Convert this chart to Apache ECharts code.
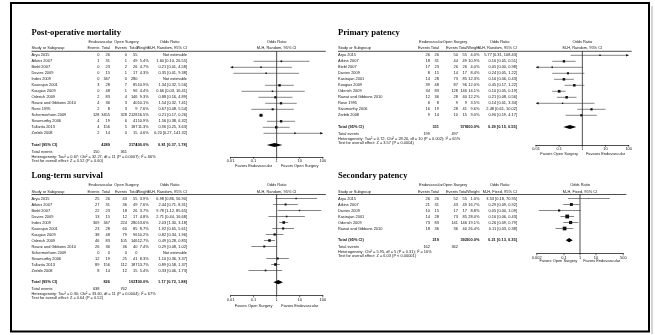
<!DOCTYPE html>
<html>
<head>
<meta charset="utf-8">
<script src="https://cdn.jsdelivr.net/npm/echarts@6/dist/echarts.min.js"></script>
<style>
  html, body { margin: 0; padding: 0; background: #fff; }
  #chart { width: 655px; height: 335px; }
</style>
</head>
<body>
<div id="chart"></div>
<script>
// ---------- Post-operative mortality ----------
const mortStudies = ['Arya 2015', 'Atkins 2007', 'Biebl 2007', 'Davies 2009', 'Indes 2009', 'Kasirajan 2001', 'Kougias 2009', 'Oderich 2009', 'Rawat and Gibbons 2010', 'Rose 1995', 'Schermerhorn 2009', 'Sivamurthy 2006', 'Tallarita 2013', 'Zerbib 2008'];
const mortEndoEvents = [0, 1, 0, 0, 0, 3, 0, 2, 4, 2, 128, 4, 4, 2];
const mortEndoTotal  = [26, 31, 23, 15, 347, 28, 48, 83, 36, 8, 3455, 19, 156, 14];
const mortOpenEvents = [0, 1, 2, 1, 0, 7, 1, 4, 3, 3, 328, 6, 5, 0];
const mortOpenTotal  = [55, 49, 26, 17, 280, 85, 96, 146, 40, 9, 2128, 41, 187, 15];
const mortWeight = [null, 5.4, 4.7, 4.3, null, 10.9, 4.4, 9.3, 10.1, 7.6, 16.5, 10.9, 11.3, 4.6];
const mortOR   = [null, 1.60, 0.21, 0.35, null, 1.34, 0.66, 0.88, 1.54, 0.67, 0.21, 1.56, 0.96, 6.20];
const mortLow  = [null, 0.10, 0.0095, 0.0134, null, 0.32, 0.03, 0.16, 0.32, 0.08, 0.17, 0.38, 0.25, 0.27];
const mortHigh = [null, 26.55, 4.58, 9.38, null, 5.56, 16.41, 4.89, 7.41, 5.54, 0.26, 6.32, 3.63, 141.32];
const mortPooled = [0.81, 0.37, 1.78];
const mortHet  = 'Heterogeneity: Tau² = 0.67; Chi² = 32.27, df = 11 (P = 0.0007); I² = 66%';
const mortTest = 'Test for overall effect: Z = 0.52 (P = 0.60)';
const mortFavors = ['Favors Endovascular', 'Favors Open Surgery'];

// ---------- Primary patency ----------
const primStudies = ['Arya 2015', 'Atkins 2007', 'Biebl 2007', 'Davies 2009', 'Kasirajan 2001', 'Kougias 2009', 'Oderich 2009', 'Rawat and Gibbons 2010', 'Rose 1995', 'Sivamurthy 2006', 'Zerbib 2008'];
const primEndoEvents = [26, 18, 17, 8, 14, 39, 34, 12, 6, 16, 9];
const primEndoTotal  = [26, 31, 23, 15, 28, 48, 83, 36, 8, 19, 14];
const primOpenEvents = [50, 44, 26, 14, 73, 87, 128, 28, 9, 28, 10];
const primOpenTotal  = [55, 49, 26, 17, 85, 96, 146, 40, 9, 41, 15];
const primWeight = [4.0, 10.9, 4.0, 8.4, 12.3, 12.0, 14.1, 12.2, 3.5, 9.6, 9.0];
const primOR   = [5.77, 0.16, 0.05, 0.24, 0.16, 0.45, 0.10, 0.21, 0.14, 2.48, 0.90];
const primLow  = [0.31, 0.05, 0.0027, 0.05, 0.06, 0.17, 0.05, 0.08, 0.0056, 0.61, 0.19];
const primHigh = [108.43, 0.51, 0.98, 1.22, 0.43, 1.22, 0.19, 0.56, 3.34, 10.02, 4.17];
const primPooled = [0.29, 0.15, 0.55];
const primHet  = 'Heterogeneity: Tau² = 0.72; Chi² = 28.20, df = 10 (P = 0.002); I² = 65%';
const primTest = 'Test for overall effect: Z = 3.57 (P = 0.0004)';
const primFavors = ['Favors Open Surgery', 'Favours Endovascular'];

// ---------- Long-term survival ----------
const survStudies = ['Arya 2015', 'Atkins 2007', 'Biebl 2007', 'Davies 2009', 'Indes 2009', 'Kasirajan 2001', 'Kougias 2009', 'Oderich 2009', 'Rawat and Gibbons 2010', 'Schermerhorn 2009', 'Sivamurthy 2006', 'Tallarita 2013', 'Zerbib 2008'];
const survEndoEvents = [25, 27, 22, 13, 309, 23, 38, 46, 26, 0, 12, 89, 8];
const survEndoTotal  = [26, 31, 23, 15, 347, 28, 48, 83, 36, 0, 19, 156, 14];
const survOpenEvents = [43, 36, 18, 12, 224, 60, 79, 105, 36, 0, 25, 112, 12];
const survOpenTotal  = [55, 49, 26, 17, 280, 85, 96, 146, 40, 0, 41, 187, 15];
const survWeight = [3.9, 7.6, 3.7, 4.8, 13.6, 8.7, 10.2, 12.7, 7.4, null, 8.3, 13.7, 5.4];
const survOR   = [6.98, 2.44, 9.78, 2.71, 2.03, 1.92, 0.82, 0.49, 0.29, null, 1.10, 0.89, 0.33];
const survLow  = [0.86, 0.71, 1.12, 0.44, 1.30, 0.65, 0.34, 0.28, 0.08, null, 0.36, 0.58, 0.06];
const survHigh = [56.90, 8.31, 85.65, 16.68, 3.18, 5.61, 1.96, 0.85, 1.02, null, 3.37, 1.37, 1.73];
const survPooled = [1.17, 0.72, 1.88];
const survHet  = 'Heterogeneity: Tau² = 0.30; Chi² = 33.60, df = 11 (P = 0.0004); I² = 67%';
const survTest = 'Test for overall effect: Z = 0.64 (P = 0.52)';
const survFavors = ['Favors Open Surgery', 'Favors Endovascular'];

// ---------- Secondary patency ----------
const secStudies = ['Arya 2015', 'Atkins 2007', 'Davies 2009', 'Kasirajan 2001', 'Oderich 2009', 'Rawat and Gibbons 2010'];
const secEndoEvents = [26, 21, 10, 14, 73, 18];
const secEndoTotal  = [26, 31, 15, 28, 83, 36];
const secOpenEvents = [52, 43, 17, 73, 141, 36];
const secOpenTotal  = [55, 49, 17, 85, 146, 40];
const secWeight = [1.0, 16.7, 8.8, 28.0, 19.1, 26.4];
const secOR   = [3.53, 0.29, 0.05, 0.16, 0.26, 0.11];
const secLow  = [0.18, 0.09, 0.0027, 0.06, 0.09, 0.03];
const secHigh = [70.95, 0.92, 1.09, 0.43, 0.79, 0.38];
const secPooled = [0.21, 0.13, 0.35];
const secHet  = 'Heterogeneity: Chi² = 5.95, df = 5 (P = 0.31); I² = 16%';
const secTest = 'Test for overall effect: Z = 6.03 (P < 0.00001)';
const secFavors = ['Favors Open Surgery', 'Favors Endovascular'];

// axis tick values
const ticksDecade = [0.01, 0.1, 1, 10, 100];
const ticksWide   = [0.002, 0.1, 1, 10, 500];

const panels = [
  { title: 'Post-operative mortality', method: 'M-H, Random, 95% CI', studies: mortStudies, e1: mortEndoEvents, n1: mortEndoTotal, e2: mortOpenEvents, n2: mortOpenTotal, w: mortWeight, or: mortOR, lo: mortLow, hi: mortHigh, pooled: mortPooled, het: mortHet, test: mortTest, favors: mortFavors, ticks: ticksDecade },
  { title: 'Primary patency', method: 'M-H, Random, 95% CI', studies: primStudies, e1: primEndoEvents, n1: primEndoTotal, e2: primOpenEvents, n2: primOpenTotal, w: primWeight, or: primOR, lo: primLow, hi: primHigh, pooled: primPooled, het: primHet, test: primTest, favors: primFavors, ticks: ticksDecade },
  { title: 'Long-term survival', method: 'M-H, Random, 95% CI', studies: survStudies, e1: survEndoEvents, n1: survEndoTotal, e2: survOpenEvents, n2: survOpenTotal, w: survWeight, or: survOR, lo: survLow, hi: survHigh, pooled: survPooled, het: survHet, test: survTest, favors: survFavors, ticks: ticksDecade },
  { title: 'Secondary patency', method: 'M-H, Fixed, 95% CI', studies: secStudies, e1: secEndoEvents, n1: secEndoTotal, e2: secOpenEvents, n2: secOpenTotal, w: secWeight, or: secOR, lo: secLow, hi: secHigh, pooled: secPooled, het: secHet, test: secTest, favors: secFavors, ticks: ticksWide }
];

// ---------- layout ----------
const SANS = '"Liberation Sans", Arial, Helvetica, sans-serif';
const SERIF = '"Liberation Serif", "Times New Roman", serif';
const FS = 3.95;
const INK = '#161616';

const LEFT_COLS  = { study: 31.5, ev1: 99.5, tot1: 110, ev2: 127, tot2: 137.5, wt: 148.8, ci: 187, hdr1: 100.5, hdr2: 126.5, hdrOR: 169.5 };
const RIGHT_COLS = { study: 338, ev1: 430, tot1: 439, ev2: 458, tot2: 467, wt: 479.5, ci: 517, hdr1: 431, hdr2: 455, hdrOR: 499.5 };
const TOP_ROWS = { title: 32.5, h1: 42, h2: 48.3, line: 51.3, row0: 55.3, step: 6.0 };
const BOTTOM_ROWS = { title: 175.7, h1: 185.2, h2: 191.5, line: 194.5, row0: 198.5, step: 6.0 };

const layouts = [
  { cols: LEFT_COLS,  rows: TOP_ROWS,    range: [0.01, 100],  plotX: [230.5, 322.8], axisY: 157,   favY: 166 },
  { cols: RIGHT_COLS, rows: TOP_ROWS,    range: [0.01, 100],  plotX: [536, 628.7],   axisY: 145,   favY: 154 },
  { cols: LEFT_COLS,  rows: BOTTOM_ROWS, range: [0.01, 100],  plotX: [230.5, 322.8], axisY: 295.5, favY: 305.5 },
  { cols: RIGHT_COLS, rows: BOTTOM_ROWS, range: [0.002, 500], plotX: [536.7, 623.3], axisY: 253.5, favY: 261 }
];

const sum = a => a.reduce((s, v) => s + v, 0);
const f2 = v => v.toFixed(2);
const ciText = (or, lo, hi) => (or == null ? 'Not estimable' : `${f2(or)} [${f2(lo)}, ${f2(hi)}]`);

const grids = [], xAxes = [], yAxes = [], series = [];

panels.forEach((p, pi) => {
  const L = layouts[pi], C = L.cols, R = L.rows;
  const rowOf = y => (y - R.row0) / R.step;
  const yMin = rowOf(R.line), yMax = rowOf(L.axisY);
  const n = p.studies.length;

  grids.push({ left: L.plotX[0], width: L.plotX[1] - L.plotX[0], top: R.line, height: L.axisY - R.line, outerBoundsMode: 'none', containLabel: false });
  xAxes.push({
    type: 'log', logBase: 10, gridIndex: pi, min: L.range[0], max: L.range[1],
    axisLine: { show: true, onZero: false, lineStyle: { color: '#000', width: 0.7 } },
    axisTick: { show: false }, axisLabel: { show: false }, splitLine: { show: false }
  });
  yAxes.push({ type: 'value', gridIndex: pi, min: yMin, max: yMax, inverse: true, show: false });

  // text lines of the table
  const totalRow = (n - 1) + 1.95;
  const eventsRow = totalRow + 7 / R.step;
  const hetRow = eventsRow + 4.6 / R.step;
  const testRow = hetRow + 4.6 / R.step;
  const lines = [];
  lines.push({ row: rowOf(R.title), items: [{ t: p.title, x: C.study, a: 'left', ff: SERIF, fs: 8.6, b: true, fill: '#000' }] });
  lines.push({ row: rowOf(R.h1), items: [
    { t: 'Endovascular', x: C.hdr1, a: 'center' },
    { t: 'Open Surgery', x: C.hdr2, a: 'center' },
    { t: 'Odds Ratio', x: C.hdrOR, a: 'center' },
    { t: 'Odds Ratio', x: 'c', a: 'center' }
  ] });
  lines.push({ row: rowOf(R.h2), items: [
    { t: 'Study or Subgroup', x: C.study, a: 'left' },
    { t: 'Events', x: C.ev1, a: 'right' },
    { t: 'Total', x: C.tot1, a: 'right' },
    { t: 'Events', x: C.ev2, a: 'right' },
    { t: 'Total', x: C.tot2, a: 'right' },
    { t: 'Weight', x: C.wt, a: 'right' },
    { t: p.method, x: C.ci, a: 'right' },
    { t: p.method, x: 'c', a: 'center' }
  ] });
  p.studies.forEach((s, i) => {
    const items = [
      { t: s, x: C.study, a: 'left' },
      { t: String(p.e1[i]), x: C.ev1, a: 'right' },
      { t: String(p.n1[i]), x: C.tot1, a: 'right' },
      { t: String(p.e2[i]), x: C.ev2, a: 'right' },
      { t: String(p.n2[i]), x: C.tot2, a: 'right' },
      { t: ciText(p.or[i], p.lo[i], p.hi[i]), x: C.ci, a: 'right' }
    ];
    if (p.w[i] != null) items.push({ t: p.w[i].toFixed(1) + '%', x: C.wt, a: 'right' });
    lines.push({ row: i, items });
  });
  lines.push({ row: totalRow, items: [
    { t: 'Total (95% CI)', x: C.study, a: 'left', b: true },
    { t: String(sum(p.n1)), x: C.tot1, a: 'right', b: true },
    { t: String(sum(p.n2)), x: C.tot2, a: 'right', b: true },
    { t: '100.0%', x: C.wt, a: 'right', b: true },
    { t: ciText(p.pooled[0], p.pooled[1], p.pooled[2]), x: C.ci, a: 'right', b: true }
  ] });
  lines.push({ row: eventsRow, items: [
    { t: 'Total events', x: C.study, a: 'left' },
    { t: String(sum(p.e1)), x: C.ev1, a: 'right' },
    { t: String(sum(p.e2)), x: C.ev2, a: 'right' }
  ] });
  lines.push({ row: hetRow, items: [{ t: p.het, x: C.study, a: 'left' }] });
  lines.push({ row: testRow, items: [{ t: p.test, x: C.study, a: 'left' }] });
  lines.push({ row: rowOf(L.favY), items: [
    { t: p.favors[0], x: 'l', a: 'center' },
    { t: p.favors[1], x: 'r', a: 'center' }
  ] });

  series.push({
    type: 'custom', name: p.title + ' table', xAxisIndex: pi, yAxisIndex: pi, clip: false, silent: true, z: 5,
    data: lines.map(l => [1, l.row]),
    renderItem: (params, api) => {
      const line = lines[params.dataIndex];
      const c = api.coord([1, api.value(1)]);
      const left = api.coord([L.range[0], api.value(1)])[0];
      const right = api.coord([L.range[1], api.value(1)])[0];
      return {
        type: 'group',
        children: line.items.map(it => ({
          type: 'text',
          x: it.x === 'c' ? c[0] : it.x === 'l' ? (left + c[0]) / 2 : it.x === 'r' ? (right + c[0]) / 2 : it.x,
          y: c[1],
          style: {
            text: it.t, align: it.a, verticalAlign: 'middle',
            fontSize: it.fs || FS, fontFamily: it.ff || SANS, fontWeight: it.b ? 'bold' : 'normal',
            fill: it.fill || INK
          }
        }))
      };
    }
  });

  // header rule
  series.push({
    type: 'custom', name: p.title + ' rule', xAxisIndex: pi, yAxisIndex: pi, clip: false, silent: true,
    data: [[L.range[1], yMin]],
    renderItem: (params, api) => {
      const e = api.coord([api.value(0), api.value(1)]);
      return { type: 'line', shape: { x1: C.study, y1: e[1], x2: e[0] + 3, y2: e[1] }, style: { stroke: '#000', lineWidth: 0.7 } };
    }
  });

  // line of no effect
  series.push({
    type: 'custom', name: p.title + ' null', xAxisIndex: pi, yAxisIndex: pi, clip: false, silent: true,
    data: [[1, yMin, yMax]],
    renderItem: (params, api) => {
      const a = api.coord([1, api.value(1)]), b = api.coord([1, api.value(2)]);
      return { type: 'line', shape: { x1: a[0], y1: a[1], x2: b[0], y2: b[1] }, style: { stroke: '#000', lineWidth: 0.7 } };
    }
  });

  // study estimates with confidence intervals
  const est = [];
  p.studies.forEach((s, i) => { if (p.or[i] != null) est.push([p.or[i], i, p.lo[i], p.hi[i], p.w[i]]); });
  series.push({
    type: 'custom', name: p.title + ' studies', xAxisIndex: pi, yAxisIndex: pi, clip: false, silent: true, z: 4,
    data: est,
    renderItem: (params, api) => {
      const or = api.value(0), row = api.value(1), lo = api.value(2), hi = api.value(3), w = api.value(4);
      const [mn, mx] = L.range;
      const a = api.coord([Math.max(lo, mn), row]);
      const b = api.coord([Math.min(hi, mx), row]);
      const c = api.coord([or, row]);
      const kids = [{ type: 'line', shape: { x1: a[0], y1: a[1], x2: b[0], y2: b[1] }, style: { stroke: '#333', lineWidth: 0.6 } }];
      if (lo < mn) kids.push({ type: 'polygon', shape: { points: [[a[0], a[1]], [a[0] + 2.6, a[1] - 1.3], [a[0] + 2.6, a[1] + 1.3]] }, style: { fill: '#111' } });
      if (hi > mx) kids.push({ type: 'polygon', shape: { points: [[b[0], b[1]], [b[0] - 2.6, b[1] - 1.3], [b[0] - 2.6, b[1] + 1.3]] }, style: { fill: '#111' } });
      const sz = 0.72 * Math.sqrt(w);
      kids.push({ type: 'rect', shape: { x: c[0] - sz / 2, y: c[1] - sz / 2, width: sz, height: sz }, style: { fill: '#111' } });
      return { type: 'group', children: kids };
    }
  });

  // pooled estimate diamond
  series.push({
    type: 'custom', name: p.title + ' pooled', xAxisIndex: pi, yAxisIndex: pi, clip: false, silent: true, z: 4,
    data: [[p.pooled[0], totalRow, p.pooled[1], p.pooled[2]]],
    renderItem: (params, api) => {
      const row = api.value(1);
      const c = api.coord([api.value(0), row]), a = api.coord([api.value(2), row]), b = api.coord([api.value(3), row]);
      return { type: 'polygon', shape: { points: [[a[0], c[1]], [c[0], c[1] - 2.1], [b[0], c[1]], [c[0], c[1] + 2.1]] }, style: { fill: '#000' } };
    }
  });

  // axis ticks and labels
  series.push({
    type: 'custom', name: p.title + ' ticks', xAxisIndex: pi, yAxisIndex: pi, clip: false, silent: true,
    data: p.ticks.map(t => [t, yMax]),
    renderItem: (params, api) => {
      const q = api.coord([api.value(0), api.value(1)]);
      return {
        type: 'group',
        children: [
          { type: 'line', shape: { x1: q[0], y1: q[1], x2: q[0], y2: q[1] + 1.8 }, style: { stroke: '#000', lineWidth: 0.6 } },
          { type: 'text', x: q[0], y: q[1] + 4, style: { text: String(p.ticks[params.dataIndex]), align: 'center', verticalAlign: 'middle', fontSize: FS, fontFamily: SANS, fill: INK } }
        ]
      };
    }
  });
});

const chart = echarts.init(document.getElementById('chart'), null, { renderer: 'canvas' });
chart.setOption({
  animation: false,
  backgroundColor: '#fff',
  grid: grids,
  xAxis: xAxes,
  yAxis: yAxes,
  series,
  graphic: [
    { type: 'rect', shape: { x: 11, y: 3, width: 638, height: 328.5 }, style: { fill: null, stroke: '#000', lineWidth: 2 }, silent: true },
    { type: 'line', shape: { x1: 652, y1: 6, x2: 652, y2: 334 }, style: { stroke: '#aaa', lineWidth: 1 }, silent: true }
  ]
});
</script>
</body>
</html>
